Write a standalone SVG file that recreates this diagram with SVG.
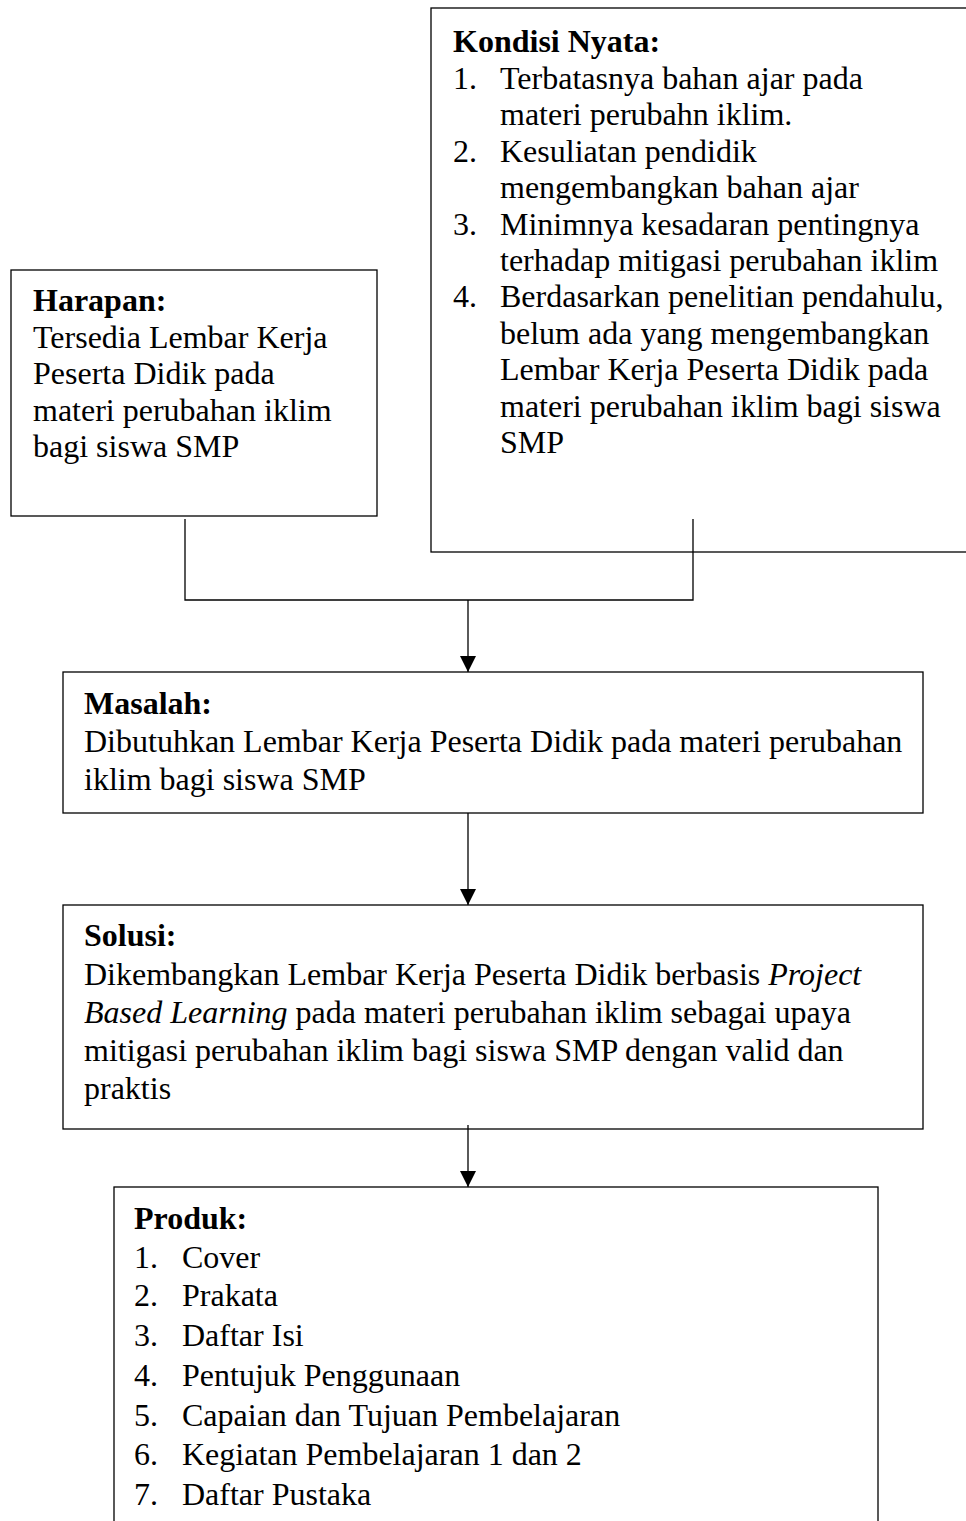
<svg xmlns="http://www.w3.org/2000/svg" width="966" height="1521" viewBox="0 0 966 1521">
<style>
.box{fill:#fff;stroke:#000;stroke-width:1.3}
.ln{fill:none;stroke:#000;stroke-width:1.3}
text{font-family:"Liberation Serif","Times New Roman",serif;font-size:32px;fill:#000}
.b{font-weight:bold}
</style>
<defs>
<marker id="arr" markerWidth="16" markerHeight="16" viewBox="0 0 16 16" refX="16" refY="8" orient="auto" markerUnits="userSpaceOnUse">
<path d="M0,0 L16,8 L0,16 Z" fill="#000"/>
</marker>
</defs>
<g id="kondisi">
<rect class="box" x="431" y="8" width="600" height="544"/>
<text class="b" x="453" y="52">Kondisi Nyata:</text>
<text x="453" y="88.5">1.</text><text x="500" y="88.5">Terbatasnya bahan ajar pada</text>
<text x="500" y="125">materi perubahn iklim.</text>
<text x="453" y="161.5">2.</text><text x="500" y="161.5">Kesuliatan pendidik</text>
<text x="500" y="198">mengembangkan bahan ajar</text>
<text x="453" y="234.5">3.</text><text x="500" y="234.5">Minimnya kesadaran pentingnya</text>
<text x="500" y="271">terhadap mitigasi perubahan iklim</text>
<text x="453" y="307">4.</text><text x="500" y="307">Berdasarkan penelitian pendahulu,</text>
<text x="500" y="343.5">belum ada yang mengembangkan</text>
<text x="500" y="380">Lembar Kerja Peserta Didik pada</text>
<text x="500" y="416.5">materi perubahan iklim bagi siswa</text>
<text x="500" y="453">SMP</text>
</g>
<g id="harapan">
<rect class="box" x="11" y="270" width="366" height="246"/>
<text class="b" x="33" y="311">Harapan:</text>
<text x="33" y="347.5">Tersedia Lembar Kerja</text>
<text x="33" y="384">Peserta Didik pada</text>
<text x="33" y="420.5">materi perubahan iklim</text>
<text x="33" y="457">bagi siswa SMP</text>
</g>
<g id="masalah">
<rect class="box" x="63" y="672" width="860" height="141"/>
<text class="b" x="84" y="714">Masalah:</text>
<text x="84" y="752">Dibutuhkan Lembar Kerja Peserta Didik pada materi perubahan</text>
<text x="84" y="790">iklim bagi siswa SMP</text>
</g>
<g id="solusi">
<rect class="box" x="63" y="905" width="860" height="224"/>
<text class="b" x="84" y="946">Solusi:</text>
<text x="84" y="985">Dikembangkan Lembar Kerja Peserta Didik berbasis <tspan font-style="italic">Project</tspan></text>
<text x="84" y="1023"><tspan font-style="italic">Based Learning</tspan> pada materi perubahan iklim sebagai upaya</text>
<text x="84" y="1061">mitigasi perubahan iklim bagi siswa SMP dengan valid dan</text>
<text x="84" y="1099">praktis</text>
</g>
<g id="produk">
<rect class="box" x="114" y="1187" width="764" height="400"/>
<text class="b" x="134" y="1229">Produk:</text>
<text x="134" y="1268">1.</text><text x="182" y="1268">Cover</text>
<text x="134" y="1306">2.</text><text x="182" y="1306">Prakata</text>
<text x="134" y="1346">3.</text><text x="182" y="1346">Daftar Isi</text>
<text x="134" y="1386">4.</text><text x="182" y="1386">Pentujuk Penggunaan</text>
<text x="134" y="1426">5.</text><text x="182" y="1426">Capaian dan Tujuan Pembelajaran</text>
<text x="134" y="1465">6.</text><text x="182" y="1465">Kegiatan Pembelajaran 1 dan 2</text>
<text x="134" y="1505">7.</text><text x="182" y="1505">Daftar Pustaka</text>
</g>
<g id="connectors">
<path class="ln" d="M185,519 V600 H693 V519"/>
<line class="ln" x1="468" y1="600" x2="468" y2="672" marker-end="url(#arr)"/>
<line class="ln" x1="468" y1="813" x2="468" y2="905" marker-end="url(#arr)"/>
<line class="ln" x1="468" y1="1125" x2="468" y2="1187" marker-end="url(#arr)"/>
</g>
</svg>
